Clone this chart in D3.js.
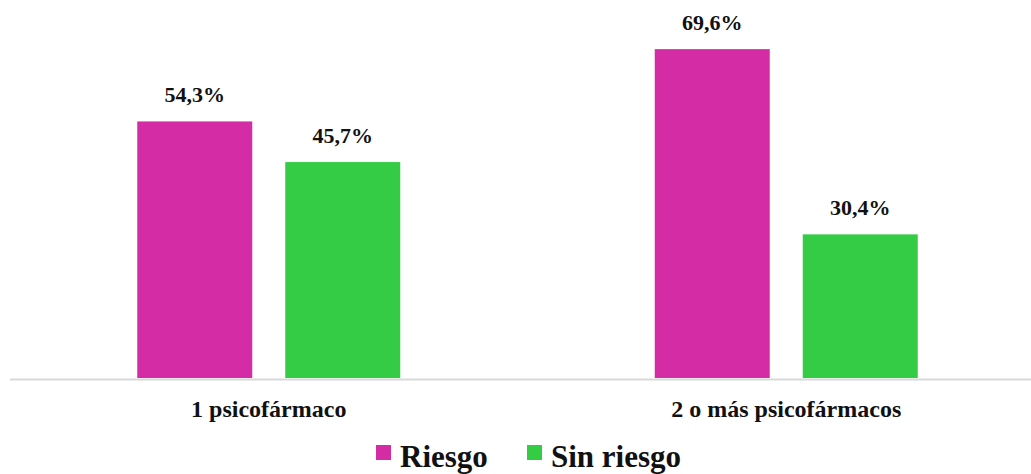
<!doctype html>
<html>
<head>
    <meta charset="utf-8">
    <style>
        body { margin: 0; background: #fff; }
        text { font-family: "Liberation Serif", "Times New Roman", serif; font-weight: bold; fill: #111; }
    </style>
    <script src="https://d3js.org/d3.v7.min.js"></script>
</head>
<body>
<svg width="1031" height="474" class="svg1"></svg>
<script>
    var categories = ["1 psicofármaco", "2 o más psicofármacos"];
    var seriesNames = ["Riesgo", "Sin riesgo"];
    var riesgo = [54.3, 69.6];
    var sinRiesgo = [45.7, 30.4];
    var labels = [["54,3%", "69,6%"], ["45,7%", "30,4%"]];
    var colors = ["#d42ca5", "#33cc44"];

    var seriesValues = [riesgo, sinRiesgo];

    var svg = d3.select(".svg1"),
        baseline = 378;

    var x0 = d3.scaleBand().domain(categories).range([10, 1045]);
    var groupWidth = 263;
    var x1 = d3.scaleBand().domain(seriesNames).range([0, groupWidth]).paddingInner(0.223);
    var y = d3.scaleLinear().domain([0, 80]).range([baseline, 0]);

    // axis line
    svg.append("line")
       .attr("x1", 10).attr("x2", 1031)
       .attr("y1", baseline + 1.5).attr("y2", baseline + 1.5)
       .attr("stroke", "#d9d9d9")
       .attr("stroke-width", 2);

    function rows(d, i) {
        return seriesNames.map(function(s, j) {
            return {s: s, j: j, v: seriesValues[j][i], l: labels[j][i]};
        });
    }

    var groups = svg.selectAll(".grp")
        .data(categories)
        .enter().append("g")
        .attr("class", "grp")
        .attr("transform", function(d) {
            return "translate(" + (x0(d) + (x0.bandwidth() - groupWidth) / 2) + ",0)";
        });

    groups.selectAll("rect")
        .data(rows)
        .enter().append("rect")
        .attr("x", function(d) { return x1(d.s); })
        .attr("width", x1.bandwidth())
        .attr("y", function(d) { return y(d.v); })
        .attr("height", function(d) { return baseline - y(d.v); })
        .attr("fill", function(d) { return colors[d.j]; });

    groups.selectAll(".val")
        .data(rows)
        .enter().append("text")
        .attr("class", "val")
        .attr("x", function(d) { return x1(d.s) + x1.bandwidth() / 2; })
        .attr("y", function(d) { return y(d.v) - 19; })
        .attr("text-anchor", "middle")
        .attr("font-size", "22px")
        .text(function(d) { return d.l; });

    // category labels
    svg.selectAll(".cat")
        .data(categories)
        .enter().append("text")
        .attr("class", "cat")
        .attr("x", function(d) { return x0(d) + x0.bandwidth() / 2; })
        .attr("y", 417)
        .attr("text-anchor", "middle")
        .attr("font-size", "24px")
        .text(function(d) { return d; });

    // legend
    var legendX = [376, 527];
    var leg = svg.selectAll(".leg")
        .data(seriesNames)
        .enter().append("g")
        .attr("class", "leg")
        .attr("transform", function(d, i) { return "translate(" + legendX[i] + ",0)"; });

    leg.append("rect")
       .attr("x", 0).attr("y", 445)
       .attr("width", 15).attr("height", 15)
       .attr("fill", function(d, i) { return colors[i]; });

    leg.append("text")
       .attr("x", 24).attr("y", 467)
       .attr("font-size", "31px")
       .text(function(d) { return d; });
</script>
</body>
</html>
